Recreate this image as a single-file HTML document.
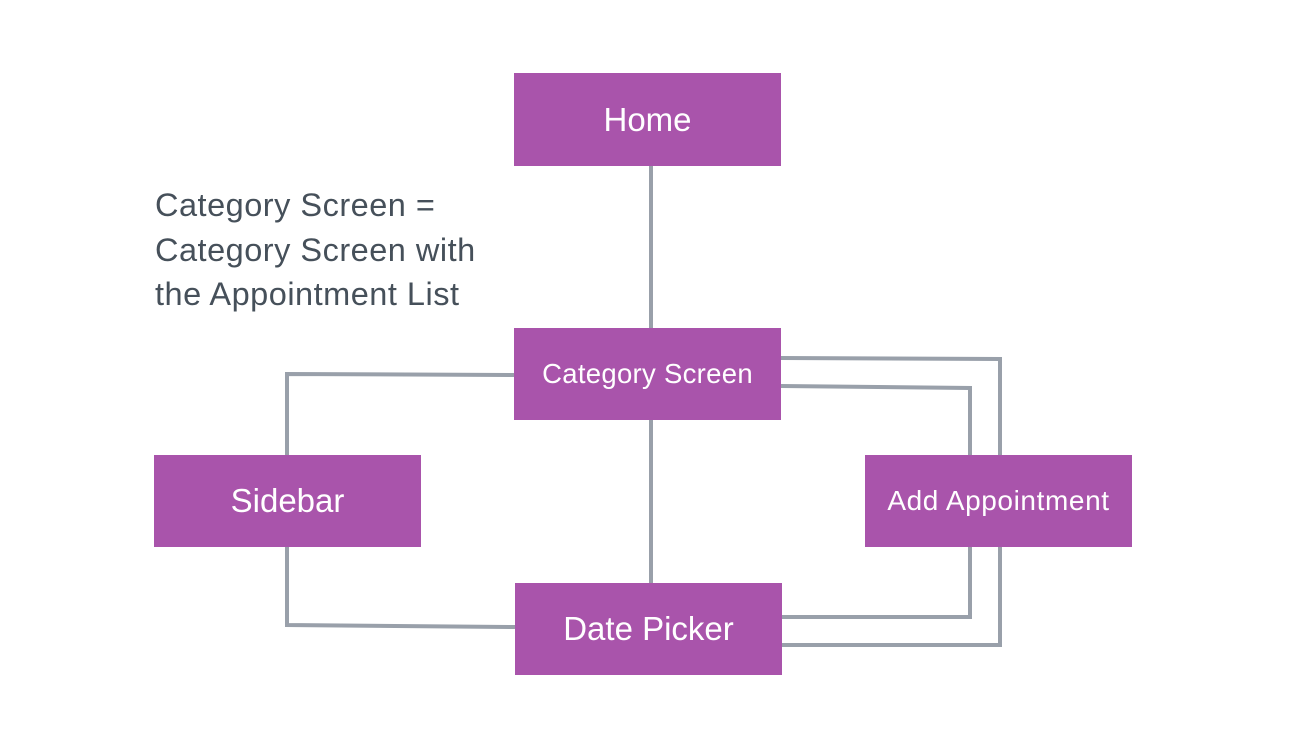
<!DOCTYPE html>
<html><head><meta charset="utf-8"><style>
html,body{margin:0;padding:0;background:#fff;}
body{width:1312px;height:756px;position:relative;overflow:hidden;font-family:"Liberation Sans",sans-serif;}
.b{position:absolute;background:#a954ab;color:#fff;display:flex;align-items:center;justify-content:center;}
.t{position:absolute;left:155px;top:183px;color:#46505a;font-size:32.5px;line-height:44.5px;letter-spacing:0.5px;}
</style></head><body>
<svg width="1312" height="756" style="position:absolute;left:0;top:0">
<g fill="none" stroke="#99a0aa" stroke-width="4">
<polyline points="651,166 651,328"/>
<polyline points="514,375 287,374 287,455"/>
<polyline points="287,547 287,625 515,627"/>
<polyline points="651,420 651,583"/>
<polyline points="781,358 1000,359 1000,645 782,645"/>
<polyline points="781,386 970,388 970,617 782,617"/>
</g>
</svg>
<div class="b" style="left:514px;top:73px;width:267px;height:93px;font-size:33px">Home</div>
<div class="b" style="left:514px;top:328px;width:267px;height:92px;font-size:27.5px;letter-spacing:0.3px">Category Screen</div>
<div class="b" style="left:154px;top:455px;width:267px;height:92px;font-size:33px">Sidebar</div>
<div class="b" style="left:865px;top:455px;width:267px;height:92px;font-size:28px;letter-spacing:0.6px">Add Appointment</div>
<div class="b" style="left:515px;top:583px;width:267px;height:92px;font-size:33px">Date Picker</div>
<div class="t">Category Screen =<br>Category Screen with<br>the Appointment List</div>
</body></html>
